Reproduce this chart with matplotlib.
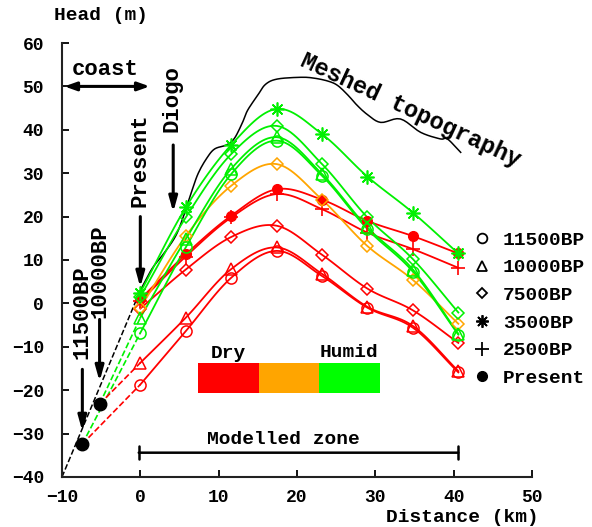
import numpy as np
import matplotlib
matplotlib.use("Agg")
import matplotlib.pyplot as plt
from matplotlib.lines import Line2D
from matplotlib.patches import Rectangle

plt.rcParams['font.family'] = ['Liberation Mono', 'DejaVu Sans Mono']
plt.rcParams['font.weight'] = 'bold'

# distance of the model nodes (km)
dist = [0, 5.8, 11.6, 17.4, 23.2, 29.0, 34.8, 40.6]

# heads (m)
red_11500 = [-18.7, -6.4, 5.9, 12.1, 6.3, -1.0, -5.6, -15.9]
red_10000 = [-13.7, -3.3, 7.9, 12.9, 6.8, -0.8, -5.2, -15.6]
red_7500 = [-1.2, 7.8, 15.3, 17.9, 11.2, 3.4, -1.6, -9.1]
red_2500 = [0.5, 10.8, 19.8, 25.2, 21.7, 16.3, 12.5, 8.2]
red_present = [1.0, 11.3, 20.2, 26.3, 23.9, 19.0, 15.5, 11.5]
orange_7500 = [-1.0, 15.5, 27.1, 32.1, 23.9, 13.2, 5.4, -4.7]
green_3500 = [2.5, 22.1, 36.5, 44.8, 39.0, 29.2, 20.9, 11.5]
green_7500 = [1.5, 19.8, 34.4, 40.9, 32.1, 19.8, 10.2, -2.1]
green_10000 = [-3.3, 14.8, 31.0, 38.3, 29.8, 17.5, 7.8, -7.0]
green_11500 = [-6.8, 12.9, 29.8, 37.5, 29.4, 17.1, 7.3, -7.2]

# sea level estimates (black dots)
bp_x = [-7.4, -5.2]
bp_y = [-32.4, -23.2]

# meshed topography
topo_x = [0, 1.5, 3, 4.5, 5.5, 6.5, 7.4, 8.5, 9.5, 11, 12, 13, 13.7, 15, 16, 17.5,
          20.5, 22.2, 24, 25.2, 26.5, 27.7, 29, 30.7, 33.2, 35.8, 38.3, 39.2, 40.9]
topo_y = [3, 8, 11.5, 15.5, 20, 25.5, 30, 33.5, 35.6, 36.5, 38, 41.5, 44.5, 48, 50.5, 51.7,
          52.1, 51.9, 51.2, 50.2, 48, 45.6, 43.5, 41.7, 42.5, 39.4, 37.9, 37.9, 34.8]
topo_ext_x = [-10, 0]
topo_ext_y = [-40, 3]

RED = '#ff0000'
ORANGE = '#ffa500'
GREEN = '#00f000'


def smooth(xs, ys, n=16):
    pts = np.column_stack([xs, ys]).astype(float)
    p = np.vstack([2 * pts[0] - pts[1], pts, 2 * pts[-1] - pts[-2]])
    t = np.linspace(0, 1, n, endpoint=False)[:, None]
    out = []
    for i in range(1, len(p) - 2):
        p0, p1, p2, p3 = p[i - 1], p[i], p[i + 1], p[i + 2]
        out.append(0.5 * (2 * p1 + (-p0 + p2) * t + (2 * p0 - 5 * p1 + 4 * p2 - p3) * t ** 2
                          + (-p0 + 3 * p1 - 3 * p2 + p3) * t ** 3))
    out.append(pts[-1:])
    s = np.vstack(out)
    return s[:, 0], s[:, 1]


fig = plt.figure(figsize=(5.92, 5.27), dpi=100)
ax = fig.add_axes([0.1047, 0.0949, 0.7939, 0.8235])

series = [
    (red_11500, RED, 'o'), (red_10000, RED, '^'), (red_7500, RED, 'D'),
    (red_2500, RED, '+'), (red_present, RED, 'o*'), (orange_7500, ORANGE, 'D'),
    (green_11500, GREEN, 'o'), (green_10000, GREEN, '^'), (green_7500, GREEN, 'D'),
    (green_3500, GREEN, (8, 2, 0)),
]
for ys, col, mk in series:
    sx, sy = smooth(dist, ys)
    ax.plot(sx, sy, color=col, lw=1.3, zorder=3)
    if mk == 'o*':
        ax.plot(dist, ys, ls='none', marker='o', ms=7, color=col, zorder=4)
    elif mk == 'D':
        ax.plot(dist, ys, ls='none', marker='D', ms=6, mfc='none', mec=col, mew=1.1, zorder=4)
    elif mk == '+' or isinstance(mk, tuple):
        ax.plot(dist, ys, ls='none', marker=mk, ms=10, color=col, mew=1.2, zorder=4)
    else:
        ax.plot(dist, ys, ls='none', marker=mk, ms=8, mfc='none', mec=col, mew=1.1, zorder=4)

# dashed extensions to the past sea levels
for ys, col, k in [(green_11500, GREEN, 0), (green_10000, GREEN, 1),
                   (red_11500, RED, 0), (red_10000, RED, 1)]:
    ax.plot([bp_x[k], dist[0]], [bp_y[k], ys[0]], ls='--', color=col, lw=1.2, zorder=2)

tx, ty = smooth(topo_x, topo_y, n=6)
ax.plot(tx, ty, color='black', lw=1.1, zorder=2)
ax.plot(topo_ext_x, topo_ext_y, ls='--', color='black', lw=1.1, zorder=2)
ax.plot(bp_x, bp_y, ls='none', marker='o', ms=9, color='black', zorder=5)

ax.set_xlim(-10, 50)
ax.set_ylim(-40, 60)
ax.set_xticks(range(-10, 51, 10))
ax.set_yticks(range(-40, 61, 10))
for s in ['top', 'right']:
    ax.spines[s].set_visible(False)
for s in ['left', 'bottom']:
    ax.spines[s].set_linewidth(1.5)
    ax.spines[s].set_color('#222222')
ax.tick_params(direction='in', length=5, width=1.3, labelsize=13, pad=9)
ax.tick_params(axis='y', pad=13)

fig.text(101 / 592, 1 - 16 / 527, 'Head (m)', ha='center', va='center', fontsize=14)
fig.text(462 / 592, 1 - 517 / 527, 'Distance (km)', ha='center', va='center', fontsize=14)

arrow = dict(arrowstyle='-|>,head_length=0.9,head_width=0.25', color='black', lw=2.2,
             shrinkA=0, shrinkB=0)
ax.annotate('', xy=(-9.7, 50), xytext=(1.2, 50),
            arrowprops=dict(arrowstyle='<|-|>,head_length=0.7,head_width=0.25', color='black',
                            lw=2.2, shrinkA=0, shrinkB=0))
ax.text(-4.5, 54, 'coast', ha='center', va='center', fontsize=16)

ax.text(4.0, 47.3, 'Diogo', rotation=90, ha='center', va='center', fontsize=16)
ax.annotate('', xy=(4.2, 21), xytext=(4.2, 36.5), arrowprops=arrow)
ax.text(0, 33, 'Present', rotation=90, ha='center', va='center', fontsize=16)
ax.annotate('', xy=(0, 3.7), xytext=(0, 20), arrowprops=arrow)
ax.text(-5.2, 7.4, '10000BP', rotation=90, ha='center', va='center', fontsize=16)
ax.annotate('', xy=(-5.2, -18), xytext=(-5.2, -3.7), arrowprops=arrow)
ax.text(-7.4, -2.1, '11500BP', rotation=90, ha='center', va='center', fontsize=16)
ax.annotate('', xy=(-7.4, -29.5), xytext=(-7.4, -15.2), arrowprops=arrow)

ax.text(34.5, 44.6, 'Meshed topography', rotation=-25, ha='center', va='center',
        fontsize=17, rotation_mode='anchor')

# dry -> humid colour key
for x0, col in [(7.4, '#ff0000'), (15.1, '#ffa500'), (22.8, '#00ff00')]:
    ax.add_patch(Rectangle((x0, -20.6), 7.8, 6.9, color=col, lw=0, zorder=3))
ax.text(11.2, -11.6, 'Dry', ha='center', va='center', fontsize=14)
ax.text(26.6, -11.4, 'Humid', ha='center', va='center', fontsize=14)

ax.annotate('', xy=(-0.2, -34.4), xytext=(40.6, -34.4),
            arrowprops=dict(arrowstyle='|-|,widthA=0.45,widthB=0.45', color='black', lw=1.8,
                            shrinkA=0, shrinkB=0))
ax.text(18.3, -31.4, 'Modelled zone', ha='center', va='center', fontsize=14)

handles = [
    Line2D([], [], ls='none', marker='o', ms=7, mfc='none', mec='black', mew=1.3),
    Line2D([], [], ls='none', marker='^', ms=7, mfc='none', mec='black', mew=1.3),
    Line2D([], [], ls='none', marker='D', ms=5.5, mfc='none', mec='black', mew=1.3),
    Line2D([], [], ls='none', marker=(8, 2, 0), ms=9, color='black', mew=1.3),
    Line2D([], [], ls='none', marker='+', ms=10, color='black', mew=1.3),
    Line2D([], [], ls='none', marker='o', ms=7, color='black'),
]
labels = ['11500BP', '10000BP', '7500BP', '3500BP', '2500BP', 'Present']
fig.legend(handles, labels, loc='upper left', bbox_to_anchor=(472 / 592, 1 - 231 / 527),
           frameon=False, fontsize=14, handlelength=1.0, handletextpad=0.6,
           labelspacing=0.52, borderpad=0, borderaxespad=0)

fig.savefig('out.png', dpi=100)
